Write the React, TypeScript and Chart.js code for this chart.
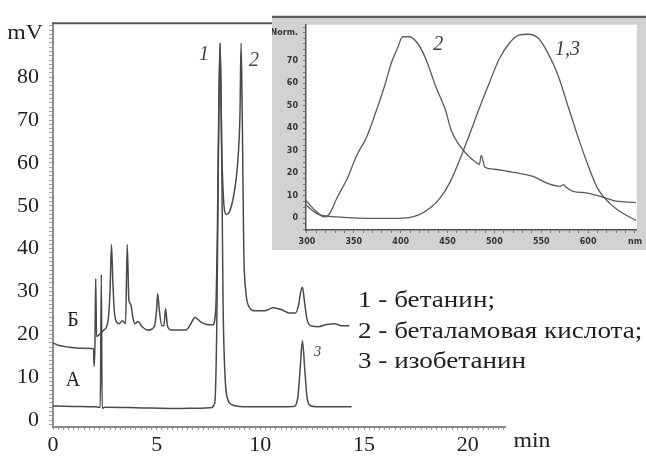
import React, { useEffect, useRef } from "react";
import { Chart, registerables } from "chart.js";

Chart.register(...registerables);

// Chromatogram А: retention time (min) and detector signal (mV)
const timeA = [0, 1, 2, 2.28, 2.33, 2.37, 2.5, 4, 6, 7, 7.6, 7.8, 7.9, 7.98, 8.06, 8.13, 8.2, 8.3, 8.42, 8.6, 9, 10, 11, 11.6, 11.8, 11.92, 12.03, 12.14, 12.26, 12.45, 13, 14.4];
const signalA = [3.3, 3.2, 3.1, 3.0, 34, 2.8, 3.0, 2.9, 2.7, 2.8, 2.9, 4, 22, 62, 88, 66, 28, 10, 5, 3.7, 3.2, 3.1, 3.1, 3.2, 5, 12, 18.5, 12, 5, 3.3, 3.1, 3.1];

// Chromatogram Б
const timeB = [0, 0.3, 0.8, 1.4, 1.95, 1.98, 2.02, 2.06, 2.1, 2.2, 2.45, 2.65, 2.75, 2.82, 2.88, 2.95, 3.05, 3.2, 3.35, 3.5, 3.58, 3.66, 3.75, 3.85, 3.95, 4.1, 4.3, 4.6, 4.9, 5.0, 5.05, 5.12, 5.25, 5.35, 5.43, 5.52, 5.7, 6.0, 6.4, 6.65, 6.85, 7.1, 7.4, 7.7, 7.85, 7.93, 8.0, 8.06, 8.13, 8.22, 8.35, 8.5, 8.7, 8.85, 8.95, 9.02, 9.07, 9.13, 9.2, 9.3, 9.45, 9.7, 10.2, 10.6, 11.0, 11.4, 11.7, 11.85, 11.95, 12.03, 12.12, 12.25, 12.45, 12.8, 13.2, 13.6, 13.9, 14.3];
const signalB = [18, 17.4, 17, 16.8, 16.7, 12.5, 17, 33, 19.5, 19.8, 21, 23, 30, 41, 33, 26, 23, 22.5, 23.2, 22.5, 41, 28, 27, 24, 22.5, 23, 21.8, 21, 22, 26, 29.5, 26, 22, 22, 26, 22, 21, 21, 21, 22.5, 24, 23, 22.3, 22.2, 26, 45, 75, 88, 65, 52, 48, 48.5, 52, 57, 63, 72, 88, 70, 40, 30, 26.5, 25.5, 25.5, 26.2, 25.8, 25, 25, 27, 30, 31, 28, 23.5, 22, 21.8, 22.3, 22.5, 22, 22];

const timeLabels = [0, 5, 10, 15, 20];
const signalLabels = [0, 10, 20, 30, 40, 50, 60, 70, 80];

// Absorption spectra (normalised): peak 2 and peaks 1,3
const wavelength2 = [299, 304, 310, 318, 324, 332, 343, 353, 364, 374, 383, 390, 397, 402, 409, 418, 427, 437, 448, 454, 461, 472, 480, 484, 486, 490, 500, 515, 528, 542, 556, 570, 574, 576, 584, 598, 612, 629, 651];
const absorbance2 = [8, 5.5, 3, 0.6, 2, 9, 17.7, 27.8, 36.4, 47.8, 59, 69, 76, 80.7, 80.7, 77.8, 70.7, 59, 47.8, 39, 33.5, 27.8, 25, 24, 28, 22.7, 21.8, 20.8, 19.9, 18.5, 15.6, 14.2, 15, 14, 12, 11.3, 9.9, 7.7, 7];
const wavelength13 = [299, 311, 332, 364, 397, 418, 432, 442, 453, 463, 474, 484, 495, 505, 516, 526, 536, 547, 557, 568, 578, 589, 600, 610, 624, 638, 651];
const absorbance13 = [5.8, 2, 0.6, 0, 0, 1.3, 4.8, 9, 16.3, 26, 37.8, 49, 60.6, 70.7, 77.8, 81.4, 81.8, 80, 73.5, 63.5, 50.6, 36.4, 23.5, 13.4, 6.3, 2, -0.9];

const nmLabels = [300, 350, 400, 450, 500, 550, 600];
const normLabels = [0, 10, 20, 30, 40, 50, 60, 70];

const legendLines = ["1 - бетанин;", "2 - беталамовая кислота;", "3 - изобетанин"];

const SERIF = '"Liberation Serif", "Times New Roman", serif';

const pts = (xs: number[], ys: number[]) => xs.map((x, i) => ({ x, y: ys[i] }));
const range = (from: number, to: number, step: number) => {
  const out: { value: number }[] = [];
  for (let v = from; v <= to + 1e-9; v += step) out.push({ value: Math.round(v * 1000) / 1000 });
  return out;
};

// text drawn slightly widened, as in the typeset figure
const wideText = (ctx: CanvasRenderingContext2D, text: string, x: number, y: number, sx: number) => {
  ctx.save();
  ctx.translate(x, y);
  ctx.scale(sx, 1);
  ctx.fillText(text, 0, 0);
  ctx.restore();
};

const mainDecor = {
  id: "mainDecor",
  afterDraw(chart: any) {
    const { ctx, chartArea, scales } = chart;
    const sx = scales.x;
    const sy = scales.y;
    ctx.save();
    ctx.strokeStyle = "#5a5a5a";
    ctx.lineWidth = 2;
    ctx.beginPath();
    ctx.moveTo(chartArea.left - 1, chartArea.top);
    ctx.lineTo(chart.width, chartArea.top);
    ctx.stroke();

    ctx.fillStyle = "#1e1e1e";
    ctx.textBaseline = "middle";
    ctx.textAlign = "center";
    ctx.font = `22px ${SERIF}`;
    wideText(ctx, "mV", 25, 33, 1.08);
    wideText(ctx, "min", 532, 441, 1.08);

    ctx.font = `20px ${SERIF}`;
    ctx.fillText("Б", 73, 321);
    ctx.fillText("А", 73, 381);

    ctx.fillStyle = "#444";
    ctx.font = `italic 20px ${SERIF}`;
    ctx.fillText("1", sx.getPixelForValue(8.06) - 16, sy.getPixelForValue(88) + 12);
    ctx.fillText("2", sx.getPixelForValue(9.07) + 13, sy.getPixelForValue(88) + 18);
    ctx.font = `italic 15px ${SERIF}`;
    ctx.fillText("3", sx.getPixelForValue(12.03) + 15, sy.getPixelForValue(18.5) + 11);

    ctx.fillStyle = "#1e1e1e";
    ctx.textAlign = "left";
    ctx.font = `24px ${SERIF}`;
    legendLines.forEach((t, i) => wideText(ctx, t, 358, 301 + i * 30.5, 1.13));
    ctx.restore();
  },
};

const insetDecor = {
  id: "insetDecor",
  beforeDraw(chart: any) {
    const { ctx, chartArea } = chart;
    ctx.save();
    ctx.fillStyle = "#d2d2d2";
    ctx.fillRect(0, 0, chart.width, chart.height);
    ctx.fillStyle = "#ffffff";
    ctx.fillRect(chartArea.left, chartArea.top, chartArea.right - chartArea.left, chartArea.bottom - chartArea.top);
    ctx.restore();
  },
  afterDraw(chart: any) {
    const { ctx, scales } = chart;
    const sx = scales.x;
    const sy = scales.y;
    ctx.save();
    ctx.strokeStyle = "#5a5a5a";
    ctx.lineWidth = 2;
    ctx.beginPath();
    ctx.moveTo(0, 2);
    ctx.lineTo(chart.width, 2);
    ctx.stroke();
    ctx.fillStyle = "#3a3a3a";
    ctx.font = `italic 20px ${SERIF}`;
    ctx.textAlign = "center";
    ctx.textBaseline = "middle";
    ctx.fillText("2", sx.getPixelForValue(440), sy.getPixelForValue(77));
    ctx.fillText("1,3", sx.getPixelForValue(578), sy.getPixelForValue(75));
    ctx.restore();
  },
};

export default function App() {
  const mainRef = useRef<HTMLCanvasElement>(null);
  const insetRef = useRef<HTMLCanvasElement>(null);

  useEffect(() => {
    const main = new Chart(mainRef.current!, {
      type: "line",
      data: {
        datasets: [
          { data: pts(timeA, signalA), borderColor: "#4a4a4a", borderWidth: 1.5, pointRadius: 0, cubicInterpolationMode: "monotone" },
          { data: pts(timeB, signalB), borderColor: "#4a4a4a", borderWidth: 1.5, pointRadius: 0, cubicInterpolationMode: "monotone" },
        ],
      },
      options: {
        animation: false,
        responsive: false,
        maintainAspectRatio: false,
        layout: { padding: { top: 17, right: 141, left: 0, bottom: 0 } },
        plugins: { legend: { display: false }, tooltip: { enabled: false } },
        scales: {
          x: {
            type: "linear",
            min: 0,
            max: 21.8,
            afterBuildTicks: (s: any) => { s.ticks = range(0, 21.75, 0.25); },
            afterFit: (s: any) => { s.height = 29; },
            ticks: {
              autoSkip: false,
              maxRotation: 0,
              padding: 2,
              color: "#1e1e1e",
              font: { family: SERIF, size: 22 },
              callback: (v: any) => (timeLabels.includes(Number(v)) ? String(v) : ""),
            },
            grid: { drawOnChartArea: false, drawTicks: true, tickLength: 3, color: "#9a9a9a" },
            border: { color: "#8a8a8a", width: 2 },
          },
          y: {
            type: "linear",
            min: -1.6,
            max: 92.6,
            afterBuildTicks: (s: any) => { s.ticks = range(-1, 92, 1); },
            afterFit: (s: any) => { s.width = 53; },
            ticks: {
              autoSkip: false,
              padding: 10,
              color: "#1e1e1e",
              font: { family: SERIF, size: 22 },
              callback: (v: any) => (signalLabels.includes(Number(v)) ? String(v) : ""),
            },
            grid: { drawOnChartArea: false, drawTicks: true, tickLength: 4, color: "#a0a0a0" },
            border: { color: "#8a8a8a", width: 2 },
          },
        },
      },
      plugins: [mainDecor],
    } as any);

    const inset = new Chart(insetRef.current!, {
      type: "line",
      data: {
        datasets: [
          { data: pts(wavelength2, absorbance2), borderColor: "#5a5a5a", borderWidth: 1.3, pointRadius: 0, cubicInterpolationMode: "monotone" },
          { data: pts(wavelength13, absorbance13), borderColor: "#5a5a5a", borderWidth: 1.3, pointRadius: 0, cubicInterpolationMode: "monotone" },
        ],
      },
      options: {
        animation: false,
        responsive: false,
        maintainAspectRatio: false,
        layout: { padding: { top: 4, right: 4, left: 0, bottom: 0 } },
        plugins: { legend: { display: false }, tooltip: { enabled: false } },
        scales: {
          x: {
            type: "linear",
            min: 299,
            max: 652,
            afterBuildTicks: (s: any) => { s.ticks = range(300, 650, 10); },
            afterFit: (s: any) => { s.height = 20; },
            ticks: {
              autoSkip: false,
              maxRotation: 0,
              padding: 4,
              color: "#333",
              font: { family: "DejaVu Sans", size: 8, weight: "bold" },
              callback: (v: any) => (nmLabels.includes(Number(v)) ? String(v) : Number(v) === 650 ? "nm" : ""),
            },
            grid: { drawOnChartArea: false, drawTicks: true, tickLength: 3, color: "#777" },
            border: { color: "#555", width: 1.5 },
          },
          y: {
            type: "linear",
            min: -5.2,
            max: 86,
            afterBuildTicks: (s: any) => { s.ticks = range(-5, 85, 2.5); },
            afterFit: (s: any) => { s.width = 34; },
            ticks: {
              autoSkip: false,
              padding: 5,
              color: "#333",
              font: { family: "DejaVu Sans", size: 8, weight: "bold" },
              callback: (v: any) => (normLabels.includes(Number(v)) ? String(v) : Number(v) === 82.5 ? "Norm." : ""),
            },
            grid: { drawOnChartArea: false, drawTicks: true, tickLength: 3, color: "#777" },
            border: { color: "#555", width: 1.5 },
          },
        },
      },
      plugins: [insetDecor],
    } as any);

    return () => {
      main.destroy();
      inset.destroy();
    };
  }, []);

  return (
    <div style={{ position: "fixed", left: 0, top: 0, width: 646, height: 456, background: "#fff" }}>
      <canvas ref={mainRef} width={646} height={456} style={{ position: "absolute", left: 0, top: 0, width: 646, height: 456 }} />
      <canvas ref={insetRef} width={374} height={235} style={{ position: "absolute", left: 272, top: 15, width: 374, height: 235 }} />
    </div>
  );
}
